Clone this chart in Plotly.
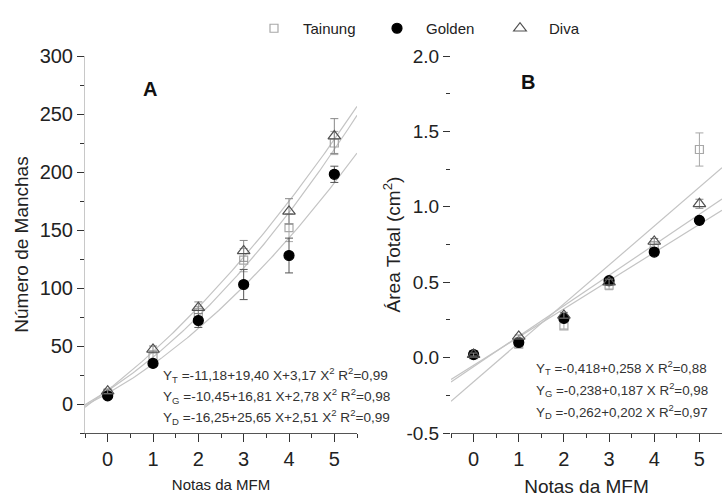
import numpy as np
import plotly.graph_objects as go

# ---------------- data ----------------
notas = [0, 1, 2, 3, 4, 5]

# Panel A: Número de Manchas
tainung_A = [9, 42, 79, 124, 152, 225]
tainung_A_err = [2, 4, 5, 10, 12, 10]
golden_A = [7, 35, 72, 103, 128, 198]
golden_A_err = [2, 3, 6, 13, 15, 7]
diva_A = [11, 47, 83, 132, 166, 231]
diva_A_err = [2, 3, 5, 9, 11, 15]

# Panel B: Área Total (cm²)
tainung_B = [0.02, 0.09, 0.21, 0.48, 0.74, 1.38]
tainung_B_err = [0.01, 0.02, 0.02, 0.03, 0.03, 0.11]
golden_B = [0.02, 0.10, 0.26, 0.51, 0.70, 0.91]
golden_B_err = [0.01, 0.01, 0.02, 0.02, 0.02, 0.02]
diva_B = [0.02, 0.14, 0.28, 0.50, 0.77, 1.02]
diva_B_err = [0.01, 0.01, 0.02, 0.02, 0.02, 0.03]

# regression coefficients printed on the chart (X = nota + 1)
x_offset = 1
fitA_T = [-11.18, 19.40, 3.17]
fitA_G = [-10.45, 16.81, 2.78]
fitA_D = [-16.25, 25.65, 2.51]
fitB_T = [-0.418, 0.258]
fitB_G = [-0.238, 0.187]
fitB_D = [-0.262, 0.202]

eqA = ["Y<sub>T</sub> =-11,18+19,40 X+3,17 X<sup>2</sup> R<sup>2</sup>=0,99",
       "Y<sub>G</sub> =-10,45+16,81 X+2,78 X<sup>2</sup> R<sup>2</sup>=0,98",
       "Y<sub>D</sub> =-16,25+25,65 X+2,51 X<sup>2</sup> R<sup>2</sup>=0,99"]
eqB = ["Y<sub>T</sub> =-0,418+0,258 X R<sup>2</sup>=0,88",
       "Y<sub>G</sub> =-0,238+0,187 X R<sup>2</sup>=0,98",
       "Y<sub>D</sub> =-0,262+0,202 X R<sup>2</sup>=0,97"]

series_names = ["Tainung", "Golden", "Diva"]

# ---------------- figure ----------------
W, H = 722, 501
FONT = "Liberation Sans, Arial, sans-serif"
fig = go.Figure()

xs = np.linspace(-0.5, 5.5, 121)
X = xs + x_offset

def poly(c, X):
    return sum(ci * X ** i for i, ci in enumerate(c))

line_style = dict(color="#c4c4c4", width=1.2)
for c in (fitA_T, fitA_G, fitA_D):
    fig.add_trace(go.Scatter(x=xs, y=poly(c, X), mode="lines", line=line_style,
                             showlegend=False, hoverinfo="skip", xaxis="x", yaxis="y"))
for c in (fitB_T, fitB_G, fitB_D):
    fig.add_trace(go.Scatter(x=xs, y=poly(c, X), mode="lines", line=line_style,
                             showlegend=False, hoverinfo="skip", xaxis="x2", yaxis="y2"))

styles = {
    "Tainung": dict(symbol="square-open", size=8, color="#a8a8a8", ecolor="#a8a8a8"),
    "Golden": dict(symbol="circle", size=10, color="#000000", ecolor="#555555"),
    "Diva": dict(symbol="triangle-up-open", size=11, color="#505050", ecolor="#888888"),
}

dataA = {"Tainung": (tainung_A, tainung_A_err), "Golden": (golden_A, golden_A_err),
         "Diva": (diva_A, diva_A_err)}
dataB = {"Tainung": (tainung_B, tainung_B_err), "Golden": (golden_B, golden_B_err),
         "Diva": (diva_B, diva_B_err)}

for name in series_names:
    s = styles[name]
    for (d, xa, ya, show) in ((dataA, "x", "y", True), (dataB, "x2", "y2", False)):
        vals, errs = d[name]
        fig.add_trace(go.Scatter(
            x=notas, y=vals, mode="markers", name=name, showlegend=show,
            marker=dict(symbol=s["symbol"], size=s["size"], color=s["color"],
                        line=dict(color=s["color"], width=1.2)),
            error_y=dict(type="data", array=errs, color=s["ecolor"], thickness=1, width=4),
            xaxis=xa, yaxis=ya))

def px_x(p):
    return p / W

def px_y(p):
    return 1 - p / H

ydom = [px_y(433), px_y(56)]
tickfont = dict(family=FONT, size=20, color="#222")

common_x = dict(range=[-0.5, 5.5], tickvals=notas, ticks="outside", ticklen=8,
                tickwidth=1.2, tickcolor="#333", showline=True, linecolor="#555",
                linewidth=1, showgrid=False, zeroline=False, tickfont=tickfont,
                minor=dict(ticks="outside", dtick=0.5, ticklen=4, tickcolor="#333",
                           tickwidth=1.2, showgrid=False))

fig.update_layout(
    width=W, height=H, margin=dict(l=0, r=0, t=0, b=0, autoexpand=False),
    paper_bgcolor="white", plot_bgcolor="white",
    font=dict(family=FONT, color="#222"),
    xaxis=dict(domain=[px_x(85), px_x(357)], anchor="y",
               title=dict(text="Notas da MFM", font=dict(size=15), standoff=10),
               **common_x),
    yaxis=dict(domain=ydom, anchor="x", range=[-25, 300],
               tickvals=[0, 50, 100, 150, 200, 250, 300], ticks="outside", ticklen=7,
               tickwidth=1.2, tickcolor="#333", showline=True, linecolor="#c8c8c8",
               linewidth=1, showgrid=False, zeroline=False, tickfont=tickfont,
               minor=dict(ticks="outside", dtick=25, ticklen=4, tickcolor="#333",
                          tickwidth=1.2, showgrid=False),
               title=dict(text="Número de Manchas", font=dict(size=19), standoff=5)),
    xaxis2=dict(domain=[px_x(451), 1.0], anchor="y2",
                title=dict(text="Notas da MFM", font=dict(size=19), standoff=10),
                **common_x),
    yaxis2=dict(domain=ydom, anchor="x2", range=[-0.5, 2.0],
                tickvals=[-0.5, 0.0, 0.5, 1.0, 1.5, 2.0],
                ticktext=["-0.5", "0.0", "0.5", "1.0", "1.5", "2.0"],
                ticks="outside", ticklen=7, tickwidth=1.2, tickcolor="#333",
                showline=False, showgrid=False, zeroline=False,
                tickfont=dict(family=FONT, size=19, color="#222"),
                minor=dict(ticks="outside", dtick=0.25, ticklen=4, tickcolor="#333",
                           tickwidth=1.2, showgrid=False),
                title=dict(text="Área Total (cm<sup>2</sup>)", font=dict(size=19), standoff=0)),
    legend=dict(orientation="h", x=px_x(245), y=px_y(12), xanchor="left", yanchor="top",
                font=dict(family=FONT, size=15, color="#222"), bgcolor="rgba(0,0,0,0)",
                itemwidth=48, entrywidth=60, entrywidthmode="pixels", itemclick=False),
)

annotations = []
annotations.append(dict(text="<b>A</b>", x=px_x(150), y=px_y(89), xref="paper", yref="paper",
                        xanchor="center", yanchor="middle",
                        showarrow=False, font=dict(size=20, color="#111")))
annotations.append(dict(text="<b>B</b>", x=px_x(528), y=px_y(82), xref="paper", yref="paper",
                        xanchor="center", yanchor="middle",
                        showarrow=False, font=dict(size=20, color="#111")))
for i, t in enumerate(eqA):
    annotations.append(dict(text=t, x=px_x(161), y=px_y(375 + 21 * i), xref="paper",
                            yref="paper", xanchor="left", yanchor="middle", showarrow=False,
                            font=dict(size=13.6, color="#333")))
for i, t in enumerate(eqB):
    annotations.append(dict(text=t, x=px_x(534), y=px_y(368 + 22 * i), xref="paper",
                            yref="paper", xanchor="left", yanchor="middle", showarrow=False,
                            font=dict(size=13.4, color="#333")))
fig.update_layout(annotations=annotations)

fig.write_html("out.html", config={"displayModeBar": False},
               post_script="document.body.style.margin='0';document.body.style.padding='0';")
